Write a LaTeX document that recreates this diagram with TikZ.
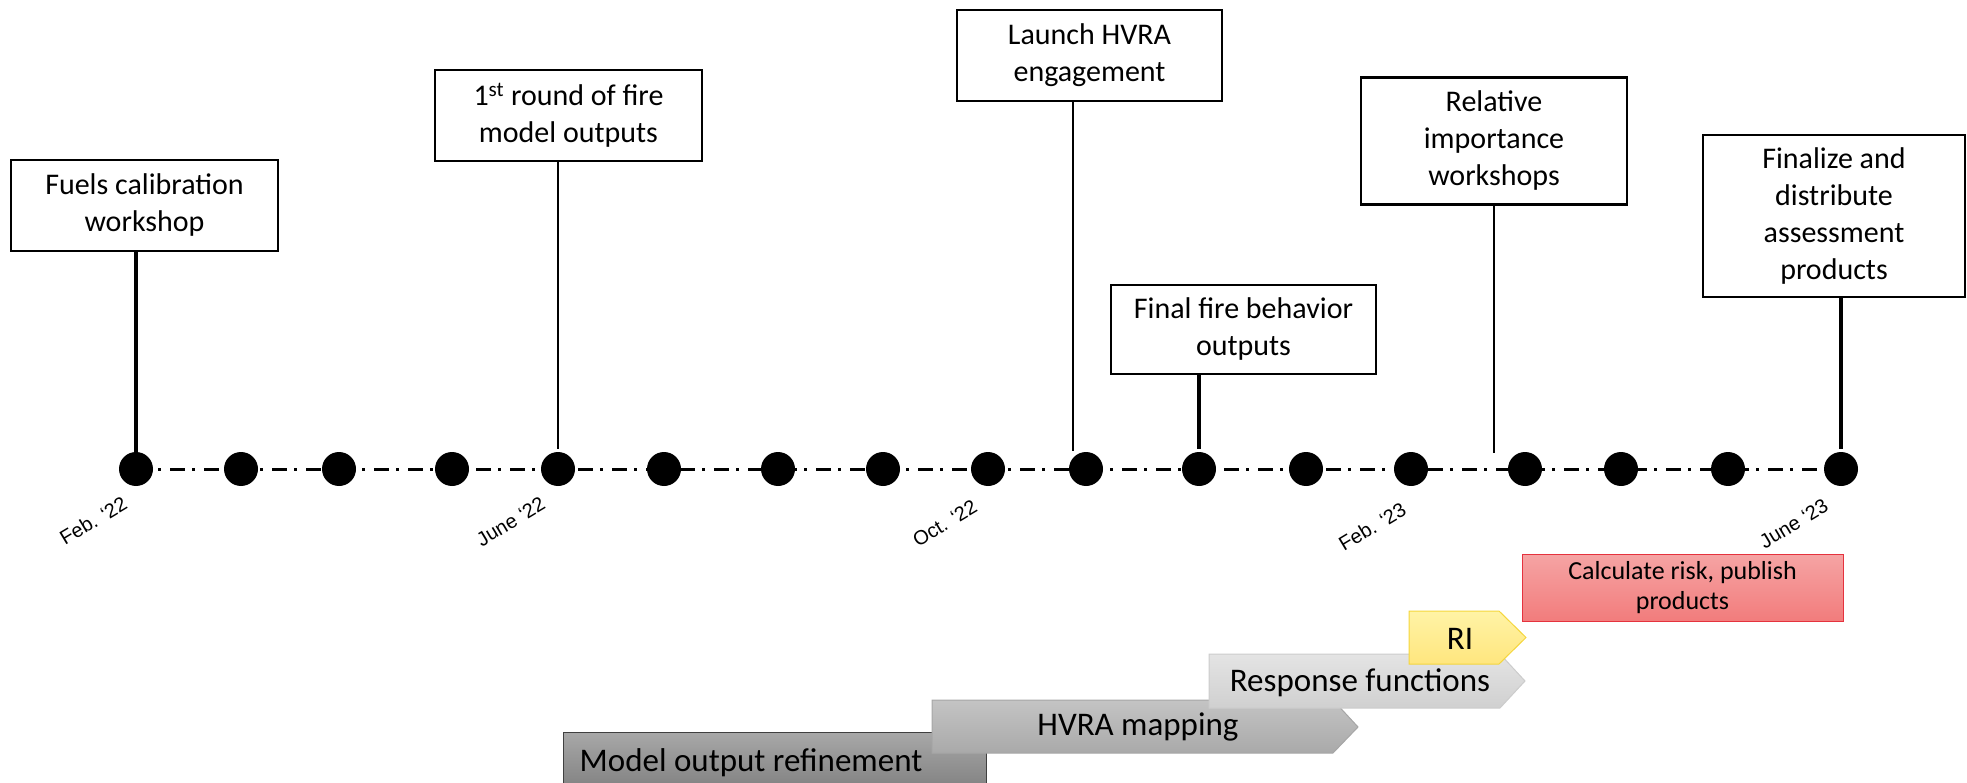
\documentclass[tikz,border=0pt]{standalone}
\usepackage{graphicx}
\usepackage{fontspec}
\setmainfont{Carlito}
\newfontfamily\arialf{Liberation Sans}
\definecolor{mdtop}{HTML}{A8A8A8}
\definecolor{mdbot}{HTML}{7A7A7A}
\definecolor{hvtop}{HTML}{C4C4C4}
\definecolor{hvbot}{HTML}{A9A9A9}
\definecolor{rftop}{HTML}{E4E4E4}
\definecolor{rfbot}{HTML}{D0D0D0}
\definecolor{ritop}{HTML}{FFF3A6}
\definecolor{ribot}{HTML}{FFE67E}
\definecolor{ridraw}{HTML}{F5D63C}
\definecolor{rdtop}{HTML}{F5A4A4}
\definecolor{rdbot}{HTML}{F27C7C}
\definecolor{rddraw}{HTML}{E5323E}
\begin{document}
\begin{tikzpicture}[x=1pt,y=-1pt,
  evbox/.style={draw=black,line width=2.5pt,fill=white,align=center,inner sep=0pt,
    font=\fontsize{30}{37}\selectfont},
  stemthick/.style={line width=4pt},
  stemthin/.style={line width=2.5pt},
  tdot/.style={circle,fill=black,minimum size=34pt,inner sep=0pt},
  datelbl/.style={font=\arialf\fontsize{20}{22}\selectfont,anchor=north east,inner sep=0pt},
  phase/.style={line width=1pt},
  phasetxt/.style={font=\fontsize{33}{38}\selectfont,inner sep=0pt,anchor=center},
  axisline/.style={line width=3pt,dash pattern=on 15pt off 7pt on 3pt off 9pt}
]
\useasboundingbox (0,0) rectangle (1967,783);
\clip (0,0) rectangle (1967,783);

% timeline dots
\foreach \i/\x in {1/136,2/241,3/339,4/452,5/558,6/664,7/778,8/883,9/988,10/1086,11/1199,12/1306,13/1411,14/1525,15/1621,16/1728,17/1841}{
  \coordinate (c\i) at (\x,469);
}
\draw[axisline] (c1) -- (c17);
\foreach \i in {1,...,17}{
  \node[tdot] (d\i) at (c\i) {};
}

% date labels
\path (d1) ++(-7,26) node[datelbl] (l1) {\rotatebox{31}{Feb. ‘22}};
\path (d5) ++(-11,27) node[datelbl] (l5) {\rotatebox{31}{June ‘22}};
\path (d9) ++(-9,30) node[datelbl] (l9) {\rotatebox{31}{Oct. ‘22}};
\path (d13) ++(-3,32) node[datelbl] (l13) {\rotatebox{31}{Feb. ‘23}};
\path (d17) ++(-11,29) node[datelbl] (l17) {\rotatebox{31}{June ‘23}};

% event boxes
\node[evbox,minimum width=267pt,minimum height=91pt] (fuels) at (144.5,205.5) {Fuels calibration\\workshop};
\node[evbox,minimum width=267pt,minimum height=91pt] (first) at (568.5,115.5) {1\textsuperscript{st} round of fire\\model outputs};
\node[evbox,minimum width=265pt,minimum height=91pt] (launch) at (1089.5,55.5) {Launch HVRA\\engagement};
\node[evbox,minimum width=265pt,minimum height=89pt] (final) at (1243.5,329.5) {Final fire behavior\\outputs};
\node[evbox,minimum width=266pt,minimum height=127pt] (relative) at (1494,141) {Relative\\importance\\workshops};
\node[evbox,minimum width=262pt,minimum height=162pt] (finalize) at (1834,216) {Finalize and\\distribute\\assessment\\products};

% stems
\coordinate (launchend) at (1073,451);
\coordinate (relend) at (1494,453);
\draw[stemthick] (fuels.south -| d1) -- (d1.north);
\draw[stemthin] (first.south -| d5) -- ([yshift=3pt]d5.north);
\draw[stemthin] (launch.south -| launchend) -- (launchend);
\draw[stemthick] (final.south -| d11) -- ([yshift=3pt]d11.north);
\draw[stemthin] (relative.south -| relend) -- (relend);
\draw[stemthick] (finalize.south -| d17) -- ([yshift=3pt]d17.north);

% phases
\path[phase,draw=black!75,top color=mdtop,bottom color=mdbot]
  (563,732) -- (986,732) -- (986,800) -- (563,800) -- cycle;
\node[phasetxt] (model) at (751,763) {Model output refinement};

\path[phase,draw=black!35,top color=hvtop,bottom color=hvbot]
  (932,700) -- (1333,700) -- (1358,727) -- (1333,753) -- (932,753) -- cycle;
\node[phasetxt] (hvra) at (1138,727) {HVRA mapping};

\path[phase,draw=black!20,top color=rftop,bottom color=rfbot]
  (1209,654) -- (1500,654) -- (1525,681) -- (1500,708) -- (1209,708) -- cycle;
\node[phasetxt] (resp) at (1360,683) {Response functions};

\path[phase,draw=ridraw,top color=ritop,bottom color=ribot]
  (1409,611) -- (1499,611) -- (1526,637.5) -- (1499,664) -- (1409,664) -- cycle;
\node[phasetxt] (ri) at (1460,639) {RI};

\node[draw=rddraw,line width=1pt,top color=rdtop,bottom color=rdbot,
  minimum width=321pt,minimum height=67pt,inner sep=0pt,align=center,
  font=\fontsize{26}{30}\selectfont] (calc) at (1682.5,587.5) {Calculate risk, publish\\products};
\end{tikzpicture}
\end{document}
